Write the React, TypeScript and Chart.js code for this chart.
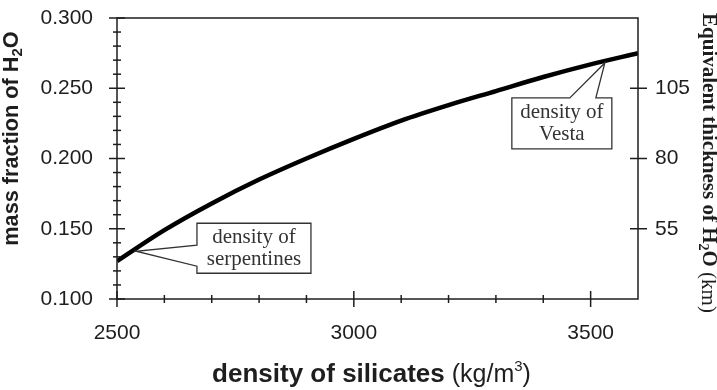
import React, { useEffect, useRef } from "react";
import { Chart, registerables } from "chart.js";

Chart.register(...registerables);

// Water mass fraction versus assumed silicate density
const densities = [2500, 2600, 2700, 2800, 2900, 3000, 3100, 3200, 3300, 3400, 3500, 3600];
const waterFraction = [0.127, 0.149, 0.168, 0.185, 0.2, 0.214, 0.227, 0.238, 0.248, 0.258, 0.267, 0.275];

// Axis ticks
const xTickValues = [2500, 3000, 3500];
const xMinorTicks = [2600, 2700, 2800, 2900, 3100, 3200, 3300, 3400];
const yTickValues = [0.1, 0.15, 0.2, 0.25, 0.3];
const yMinorTicks = [
  0.11, 0.12, 0.13, 0.14, 0.16, 0.17, 0.18, 0.19,
  0.21, 0.22, 0.23, 0.24, 0.26, 0.27, 0.28, 0.29,
];
const thicknessTicks = [55, 80, 105];

// Callout anchors (density, fraction)
const serpentinePoint = { density: 2540, fraction: 0.134 };
const vestaPoint = { density: 3530, fraction: 0.268 };

const SANS = "'Liberation Sans', Arial, sans-serif";
const SERIF = "'Liberation Serif', 'Times New Roman', serif";
const INK = "#1e1e1e";

type Run = { text: string; font: string; dy?: number };

function drawRuns(ctx: CanvasRenderingContext2D, runs: Run[], cx: number, cy: number) {
  let total = 0;
  const widths = runs.map((r) => {
    ctx.font = r.font;
    const w = ctx.measureText(r.text).width;
    total += w;
    return w;
  });
  let x = cx - total / 2;
  ctx.textAlign = "left";
  ctx.textBaseline = "middle";
  runs.forEach((r, i) => {
    ctx.font = r.font;
    ctx.fillText(r.text, x, cy + (r.dy || 0));
    x += widths[i];
  });
}

// keep tick-label overhang from pushing the plot area inwards
const noEdgePadding = (s: any) => {
  s.paddingTop = 0;
  s.paddingBottom = 0;
  s.paddingLeft = 0;
  s.paddingRight = 0;
};

const decorations = {
  id: "decorations",
  afterDraw(chart: any) {
    const ctx: CanvasRenderingContext2D = chart.ctx;
    const { left, right, top, bottom } = chart.chartArea;
    const xs = chart.scales.x;
    const ys = chart.scales.y;
    const y2 = chart.scales.y2;

    ctx.save();
    ctx.strokeStyle = INK;
    ctx.lineWidth = 1.5;
    // frame
    ctx.strokeRect(left, top, right - left, bottom - top);

    // crossing tick marks
    const hLine = (x0: number, x1: number, y: number) => {
      ctx.beginPath();
      ctx.moveTo(x0, y);
      ctx.lineTo(x1, y);
      ctx.stroke();
    };
    const vLine = (x: number, y0: number, y1: number) => {
      ctx.beginPath();
      ctx.moveTo(x, y0);
      ctx.lineTo(x, y1);
      ctx.stroke();
    };
    xTickValues.forEach((v) => vLine(xs.getPixelForValue(v), bottom - 8, bottom + 8));
    xMinorTicks.forEach((v) => vLine(xs.getPixelForValue(v), bottom - 4, bottom + 4));
    yTickValues.forEach((v) => hLine(left - 8, left + 8, ys.getPixelForValue(v)));
    yMinorTicks.forEach((v) => hLine(left - 4, left + 4, ys.getPixelForValue(v)));
    thicknessTicks.forEach((v) => hLine(right - 8, right + 9, y2.getPixelForValue(v)));

    // axis titles
    ctx.fillStyle = INK;
    drawRuns(
      ctx,
      [
        { text: "density of silicates", font: `bold 26px ${SANS}` },
        { text: " (kg/m", font: `25px ${SANS}` },
        { text: "3", font: `15px ${SANS}`, dy: -8 },
        { text: ")", font: `25px ${SANS}` },
      ],
      (left + right) / 2 - 6,
      375
    );

    ctx.save();
    ctx.translate(12.5, 138.5);
    ctx.rotate(-Math.PI / 2);
    drawRuns(
      ctx,
      [
        { text: "mass fraction of H", font: `bold 21.7px ${SANS}` },
        { text: "2", font: `bold 15px ${SANS}`, dy: 5 },
        { text: "O", font: `bold 21.7px ${SANS}` },
      ],
      0,
      0
    );
    ctx.restore();

    ctx.save();
    ctx.translate(708, 163);
    ctx.rotate(Math.PI / 2);
    drawRuns(
      ctx,
      [
        { text: "Equivalent thickness of H", font: `bold 21px ${SERIF}` },
        { text: "2", font: `bold 14px ${SERIF}`, dy: 5 },
        { text: "O", font: `bold 21px ${SERIF}` },
        { text: " (km)", font: `21px ${SERIF}` },
      ],
      0,
      0
    );
    ctx.restore();

    // callouts
    ctx.lineWidth = 1.3;
    ctx.strokeStyle = "#333";
    ctx.fillStyle = "#ffffff";

    const sx = xs.getPixelForValue(serpentinePoint.density);
    const sy = ys.getPixelForValue(serpentinePoint.fraction);
    const sb = { l: sx + 61, t: sy - 28, r: sx + 175, b: sy + 22 };
    ctx.fillRect(sb.l, sb.t, sb.r - sb.l, sb.b - sb.t);
    ctx.beginPath();
    ctx.moveTo(sb.l, sy - 6);
    ctx.lineTo(sb.l, sb.t);
    ctx.lineTo(sb.r, sb.t);
    ctx.lineTo(sb.r, sb.b);
    ctx.lineTo(sb.l, sb.b);
    ctx.lineTo(sb.l, sy + 15);
    ctx.lineTo(sx, sy);
    ctx.closePath();
    ctx.stroke();

    const vx = xs.getPixelForValue(vestaPoint.density);
    const vy = ys.getPixelForValue(vestaPoint.fraction);
    const vb = { l: vx - 93, t: vy + 35, r: vx + 7, b: vy + 86 };
    ctx.fillRect(vb.l, vb.t, vb.r - vb.l, vb.b - vb.t);
    ctx.beginPath();
    ctx.moveTo(vb.l, vb.t);
    ctx.lineTo(vx - 35, vb.t);
    ctx.lineTo(vx, vy);
    ctx.lineTo(vx - 9, vb.t);
    ctx.lineTo(vb.r, vb.t);
    ctx.lineTo(vb.r, vb.b);
    ctx.lineTo(vb.l, vb.b);
    ctx.closePath();
    ctx.stroke();

    ctx.fillStyle = "#333";
    ctx.font = `21px ${SERIF}`;
    ctx.textAlign = "center";
    ctx.textBaseline = "middle";
    const scx = (sb.l + sb.r) / 2;
    ctx.fillText("density of", scx, sb.t + 14);
    ctx.fillText("serpentines", scx, sb.t + 36);
    const vcx = (vb.l + vb.r) / 2;
    ctx.fillText("density of", vcx, vb.t + 15);
    ctx.fillText("Vesta", vcx, vb.t + 37);

    ctx.restore();
  },
};

export default function App() {
  const canvasRef = useRef<HTMLCanvasElement>(null);

  useEffect(() => {
    const canvas = canvasRef.current;
    if (!canvas) return;
    const chart = new Chart(canvas, {
      type: "line",
      data: {
        datasets: [
          {
            data: densities.map((d, i) => ({ x: d, y: waterFraction[i] })),
            borderColor: "#000000",
            borderWidth: 4.5,
            pointRadius: 0,
            cubicInterpolationMode: "monotone",
            fill: false,
          },
        ],
      },
      options: {
        responsive: false,
        animation: false,
        devicePixelRatio: 1,
        layout: { padding: { top: 18, left: 0, right: 0, bottom: 0 } },
        plugins: { legend: { display: false }, tooltip: { enabled: false } },
        scales: {
          x: {
            type: "linear",
            min: 2500,
            max: 3600,
            grid: { display: false, drawTicks: false },
            border: { display: false },
            afterBuildTicks: (s: any) => {
              s.ticks = xTickValues.map((v) => ({ value: v }));
            },
            afterFit: (s: any) => {
              s.height = 91;
              noEdgePadding(s);
            },
            ticks: {
              padding: 22,
              maxRotation: 0,
              color: INK,
              font: { family: SANS, size: 21 },
              callback: (v: any) => String(v),
            },
          },
          y: {
            type: "linear",
            position: "left",
            min: 0.1,
            max: 0.3,
            grid: { display: false, drawTicks: false },
            border: { display: false },
            afterBuildTicks: (s: any) => {
              s.ticks = yTickValues.map((v) => ({ value: v }));
            },
            afterFit: (s: any) => {
              s.width = 117;
              noEdgePadding(s);
            },
            ticks: {
              padding: 24,
              color: INK,
              font: { family: SANS, size: 21 },
              callback: (v: any) => Number(v).toFixed(3),
            },
          },
          y2: {
            type: "linear",
            position: "right",
            min: 30,
            max: 130,
            grid: { display: false, drawTicks: false },
            border: { display: false },
            afterBuildTicks: (s: any) => {
              s.ticks = thicknessTicks.map((v) => ({ value: v }));
            },
            afterFit: (s: any) => {
              s.width = 79;
              noEdgePadding(s);
            },
            ticks: {
              padding: 17,
              color: INK,
              font: { family: SANS, size: 21 },
              callback: (v: any) => String(v),
            },
          },
        },
      },
      plugins: [decorations],
    } as any);
    return () => chart.destroy();
  }, []);

  return (
    <div style={{ position: "absolute", left: 0, top: 0, width: 717, height: 390, background: "#fff" }}>
      <canvas ref={canvasRef} width={717} height={390} style={{ display: "block" }} />
    </div>
  );
}
